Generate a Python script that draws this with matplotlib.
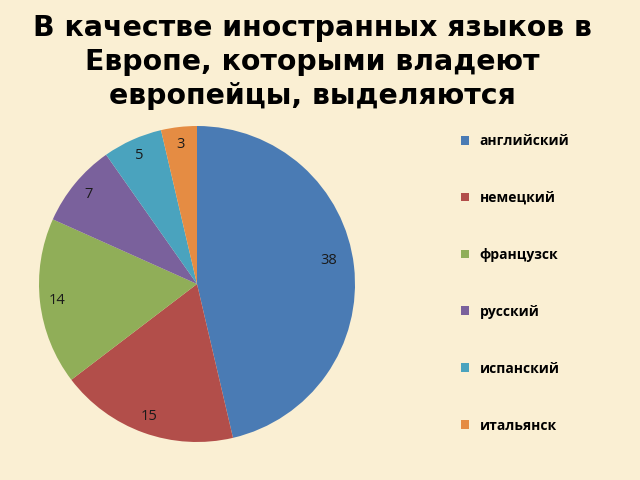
import matplotlib

matplotlib.use("Agg")
import matplotlib.pyplot as plt
from matplotlib.patches import Patch

# Languages spoken by Europeans as foreign languages
languages = ["английский", "немецкий", "французск", "русский", "испанский", "итальянск"]
shares = [38, 15, 14, 7, 5, 3]
colors = ["#4A7BB4", "#B24E4A", "#90AE58", "#7A619C", "#4AA3BE", "#E58C43"]

title = "В качестве иностранных языков в\nЕвропе, которыми владеют\nевропейцы, выделяются"
bg = "#FAEFD3"

W, H = 640, 480
fig = plt.figure(figsize=(6.4, 4.8), dpi=100)
fig.patch.set_facecolor(bg)

# pie centre and radius in pixels
cx, cy, r = 197, 284, 158
ax = fig.add_axes([(cx - r) / W, (H - cy - r) / H, 2 * r / W, 2 * r / H])
ax.set_facecolor("none")

wedges, texts = ax.pie(
    shares,
    colors=colors,
    startangle=90,
    counterclock=False,
    labels=[str(v) for v in shares],
    labeldistance=0.89,
    wedgeprops={"linewidth": 0},
    textprops={"family": "Open Sans", "fontsize": 10.5, "color": "#1a1a1a"},
)
for t in texts:
    t.set_horizontalalignment("center")
    t.set_verticalalignment("center")
# the big slice's label sits a bit further inside, like the original
texts[0].set_horizontalalignment("right")
texts[0].set_verticalalignment("bottom")
ax.set_xlim(-1, 1)
ax.set_ylim(-1, 1)
ax.set_aspect("equal")
ax.axis("off")

fig.text(
    0.488, 1 - 62 / H, title,
    ha="center", va="center",
    family="DejaVu Sans", fontweight="bold", fontsize=20.4,
    linespacing=1.27, color="black",
)

handles = [Patch(facecolor=c, edgecolor="none") for c in colors]
leg = fig.legend(
    handles, languages,
    loc="upper left",
    bbox_to_anchor=(461 / W, 1 - 134 / H),
    frameon=False,
    prop={"family": "Open Sans", "weight": "bold", "size": 10},
    handlelength=0.6,
    handleheight=0.6,
    handletextpad=0.75,
    labelspacing=3.09,
    borderaxespad=0,
    borderpad=0,
)

fig.savefig("out.png", dpi=100, facecolor=bg)
